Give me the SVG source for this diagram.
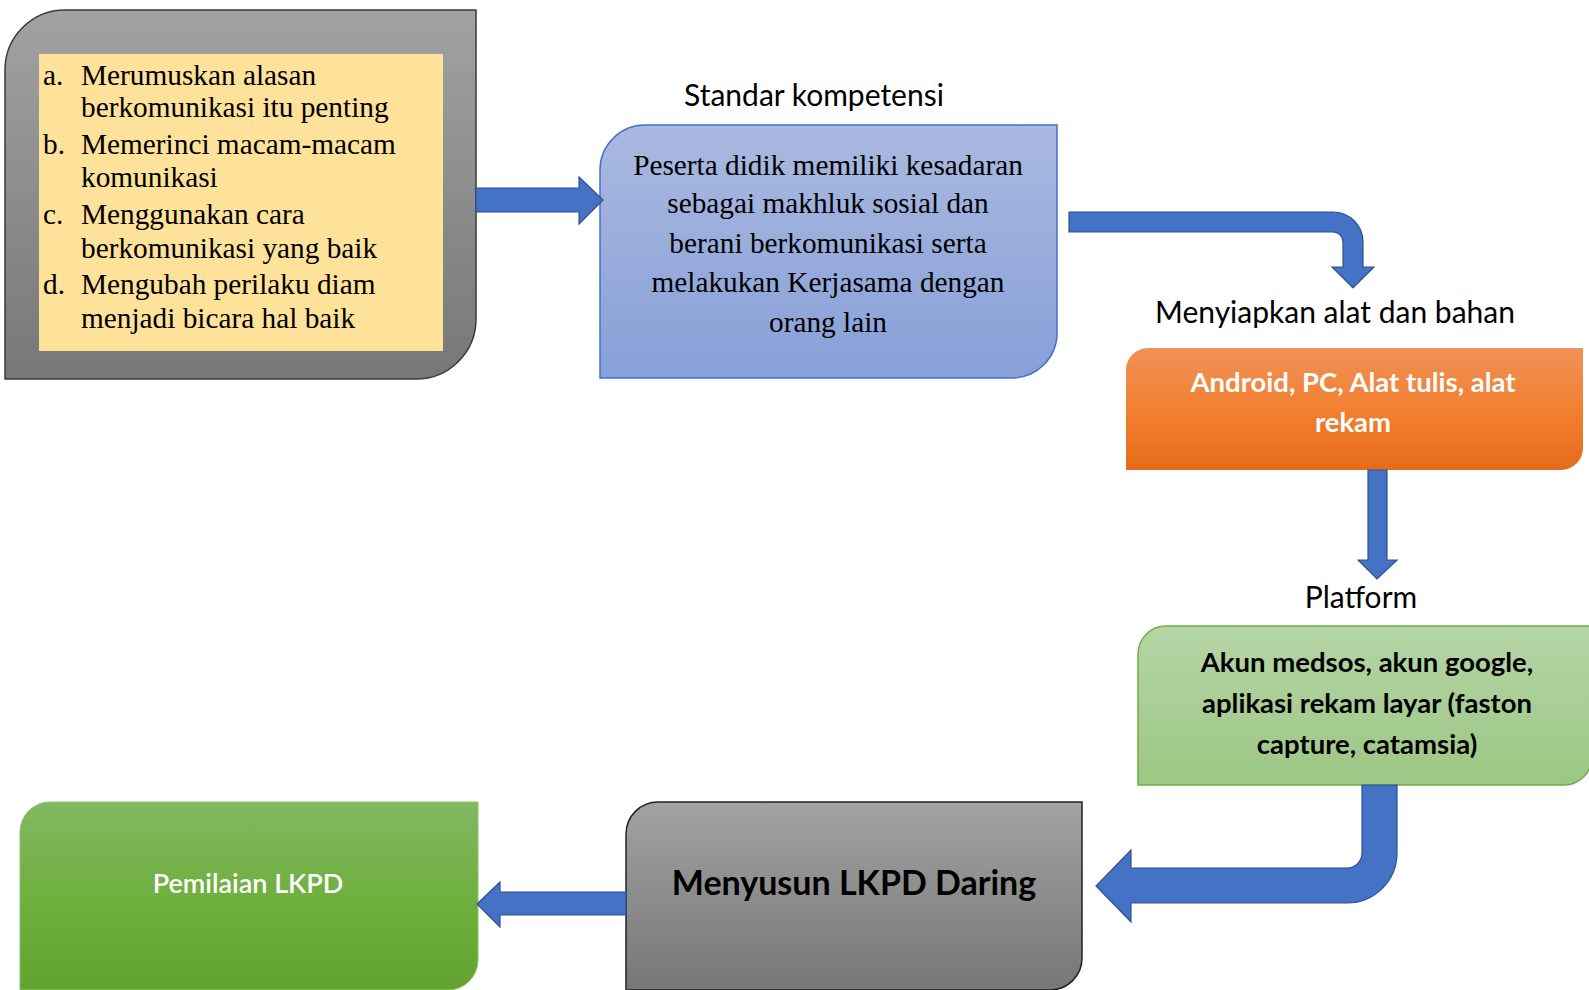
<svg xmlns="http://www.w3.org/2000/svg" width="1589" height="990" viewBox="0 0 1589 990">
<defs>
<linearGradient id="gGray" x1="0" y1="0" x2="0" y2="1"><stop offset="0" stop-color="#a2a2a2"/><stop offset="1" stop-color="#777777"/></linearGradient>
<linearGradient id="gBlue" x1="0" y1="0" x2="0" y2="1"><stop offset="0" stop-color="#aab9e0"/><stop offset="1" stop-color="#87a0d8"/></linearGradient>
<linearGradient id="gOrange" x1="0" y1="0" x2="0" y2="1"><stop offset="0" stop-color="#f09158"/><stop offset="0.5" stop-color="#f28030"/><stop offset="1" stop-color="#e46b1a"/></linearGradient>
<linearGradient id="gLightGreen" x1="0" y1="0" x2="0" y2="1"><stop offset="0" stop-color="#b5d5a6"/><stop offset="1" stop-color="#9cc784"/></linearGradient>
<linearGradient id="gGreen" x1="0" y1="0" x2="0" y2="1"><stop offset="0" stop-color="#82b862"/><stop offset="0.5" stop-color="#6fb03f"/><stop offset="1" stop-color="#62a22f"/></linearGradient>
</defs>
<style>
.serif{font-family:"Liberation Serif","Times New Roman",serif;font-size:29.3px;fill:#000}
.sans{font-family:Lato,"Open Sans",sans-serif;fill:#000}
.lbl{font-size:30px}
.bold{font-weight:bold}
.arrow{fill:#4472c4;stroke:#2f528f;stroke-width:1.2}
.mid{text-anchor:middle}
</style>
<g id="node-tujuan">
<path d="M65 10 H476 V319 A60 60 0 0 1 416 379 H5 V70 A60 60 0 0 1 65 10 Z" fill="url(#gGray)" stroke="#3a3a3a" stroke-width="1.5"/>
<rect x="39" y="54" width="404" height="297" fill="#ffe299"/>
<text class="serif" x="43" y="85">a.</text><text class="serif" x="81" y="85">Merumuskan alasan</text>
<text class="serif" x="81" y="117">berkomunikasi itu penting</text>
<text class="serif" x="43" y="154">b.</text><text class="serif" x="81" y="154">Memerinci macam-macam</text>
<text class="serif" x="81" y="187">komunikasi</text>
<text class="serif" x="43" y="224">c.</text><text class="serif" x="81" y="224">Menggunakan cara</text>
<text class="serif" x="81" y="258">berkomunikasi yang baik</text>
<text class="serif" x="43" y="294">d.</text><text class="serif" x="81" y="294">Mengubah perilaku diam</text>
<text class="serif" x="81" y="328">menjadi bicara hal baik</text>
</g>
<g id="node-standar">
<text class="sans lbl mid" x="814" y="106">Standar kompetensi</text>
<path d="M645 125 H1057 V333 A45 45 0 0 1 1012 378 H600 V170 A45 45 0 0 1 645 125 Z" fill="url(#gBlue)" stroke="#4472c4" stroke-width="1.5"/>
<text class="serif mid" x="828" y="175">Peserta didik memiliki kesadaran</text>
<text class="serif mid" x="828" y="213">sebagai makhluk sosial dan</text>
<text class="serif mid" x="828" y="253">berani berkomunikasi serta</text>
<text class="serif mid" x="828" y="292">melakukan Kerjasama dengan</text>
<text class="serif mid" x="828" y="332">orang lain</text>
</g>
<g id="node-alat">
<text class="sans lbl mid" x="1335" y="323">Menyiapkan alat dan bahan</text>
<path d="M1148 348 H1583 V448 A22 22 0 0 1 1561 470 H1126 V370 A22 22 0 0 1 1148 348 Z" fill="url(#gOrange)"/>
<text class="sans bold mid" x="1353" y="392" font-size="27.5" style="fill:#fff">Android, PC, Alat tulis, alat</text>
<text class="sans bold mid" x="1353" y="432" font-size="27.5" style="fill:#fff">rekam</text>
</g>
<g id="node-platform">
<text class="sans lbl mid" x="1361" y="608">Platform</text>
<path d="M1166 626 H1592 V757 A28 28 0 0 1 1564 785 H1138 V654 A28 28 0 0 1 1166 626 Z" fill="url(#gLightGreen)" stroke="#70ad47" stroke-width="1.5"/>
<text class="sans bold mid" x="1367" y="672" font-size="27.5">Akun medsos, akun google,</text>
<text class="sans bold mid" x="1367" y="713" font-size="27.5">aplikasi rekam layar (faston</text>
<text class="sans bold mid" x="1367" y="754" font-size="27.5">capture, catamsia)</text>
</g>
<g id="node-menyusun">
<path d="M658 802 H1082 V958 A32 32 0 0 1 1050 990 H626 V834 A32 32 0 0 1 658 802 Z" fill="url(#gGray)" stroke="#222" stroke-width="1.5"/>
<text class="sans bold mid" x="854" y="895" font-size="34">Menyusun LKPD Daring</text>
</g>
<g id="node-penilaian">
<path d="M50 802 H478 V960 A30 30 0 0 1 448 990 H20 V832 A30 30 0 0 1 50 802 Z" fill="url(#gGreen)" stroke="#8cc46a" stroke-width="1"/>
<text class="sans mid" x="248" y="893" font-size="27" style="fill:#fff;font-weight:600">Pemilaian LKPD</text>
</g>
<g id="connectors">
<path class="arrow" d="M476 188 H579 V177 L603 200 L579 224 V212 H476 Z"/>
<path class="arrow" d="M1069 212 H1333 A30 30 0 0 1 1363 242 V267 H1374 L1353 288 L1332 267 H1343 V242 A10 10 0 0 0 1333 232 H1069 Z"/>
<path class="arrow" d="M1368 470 H1387 V560 H1397 L1377 579 L1358 560 H1368 Z"/>
<path class="arrow" d="M1362 785 H1397 V853 A50 50 0 0 1 1347 903 H1131 V922 L1096 886 L1131 850 V868 H1347 A15 15 0 0 0 1362 853 Z"/>
<path class="arrow" d="M626 892 H500 V882 L477 904 L500 927 V915 H626 Z"/>
</g>
</svg>
